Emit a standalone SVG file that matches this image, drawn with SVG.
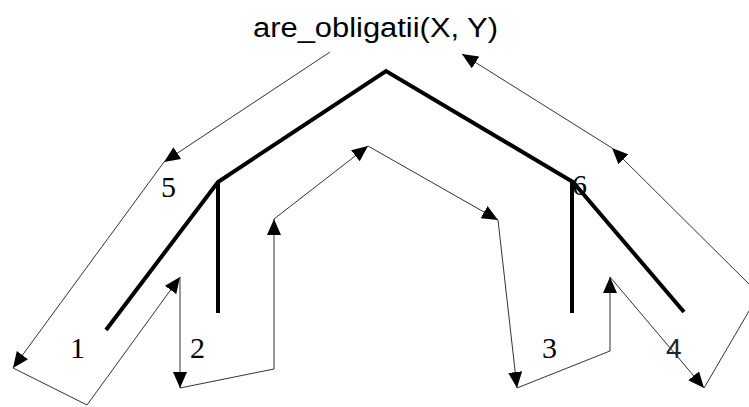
<svg xmlns="http://www.w3.org/2000/svg" width="749" height="407" viewBox="0 0 749 407">
  <style>
    .tree { fill: none; stroke: #000; stroke-width: 4; stroke-linejoin: miter; }
    .flow { fill: none; stroke: #333; stroke-width: 1; }
    .arrow { marker-end: url(#head); }
    .num { font-family: "Liberation Serif", "Times New Roman", serif; font-size: 30px; fill: #000; }
    .title { font-family: "Liberation Sans", Arial, sans-serif; font-size: 27px; fill: #000; }
  </style>
  <defs>
    <marker id="head" viewBox="0 0 10 10" refX="10" refY="5" markerUnits="userSpaceOnUse" markerWidth="16" markerHeight="14" orient="auto" preserveAspectRatio="none">
      <path d="M0,0 L10,5 L0,10 z" fill="#000"/>
    </marker>
  </defs>
  <rect width="749" height="407" fill="#fff"/>

  <!-- goal label -->
  <g id="goal">
    <text class="title" x="253" y="37" textLength="245" lengthAdjust="spacingAndGlyphs">are_obligatii(X, Y)</text>
  </g>

  <!-- branch numbers -->
  <g id="n5"><text class="num" x="161" y="197">5</text></g>
  <g id="n6"><text class="num" x="572" y="195">6</text></g>
  <g id="n1"><text class="num" x="70" y="358">1</text></g>
  <g id="n2"><text class="num" x="190" y="358">2</text></g>
  <g id="n3"><text class="num" x="542" y="358">3</text></g>
  <g id="n4"><text class="num" x="666" y="358" style="font-family:'Liberation Sans', Arial, sans-serif;font-size:28px;fill:#222">4</text></g>

  <!-- search tree -->
  <g id="tree">
    <polyline class="tree" points="106,330 218,182 386,71 573,182 684,312"/>
    <line class="tree" x1="218" y1="182" x2="218" y2="313"/>
    <line class="tree" x1="572" y1="182" x2="572" y2="313"/>
  </g>

  <!-- traversal connectors -->
  <g id="connectors">
    <line class="flow arrow" x1="330" y1="52" x2="164" y2="162"/>
    <line class="flow arrow" x1="164" y1="162" x2="13" y2="368"/>
    <line class="flow" x1="13" y1="368" x2="87" y2="405"/>
    <line class="flow arrow" x1="87" y1="405" x2="180" y2="277"/>
    <line class="flow arrow" x1="180" y1="277" x2="180" y2="388"/>
    <line class="flow" x1="180" y1="388" x2="274" y2="369"/>
    <line class="flow arrow" x1="274" y1="369" x2="274" y2="219"/>
    <line class="flow arrow" x1="274" y1="219" x2="368" y2="146"/>
    <line class="flow arrow" x1="368" y1="146" x2="498" y2="220"/>
    <line class="flow arrow" x1="498" y1="220" x2="517" y2="388"/>
    <line class="flow" x1="517" y1="388" x2="610" y2="351"/>
    <line class="flow arrow" x1="610" y1="351" x2="610" y2="277"/>
    <line class="flow arrow" x1="610" y1="277" x2="704" y2="388"/>
    <line class="flow" x1="704" y1="388" x2="759" y2="294"/>
    <line class="flow arrow" x1="759" y1="294" x2="612" y2="148"/>
    <line class="flow arrow" x1="612" y1="148" x2="462" y2="54"/>
  </g>
</svg>
